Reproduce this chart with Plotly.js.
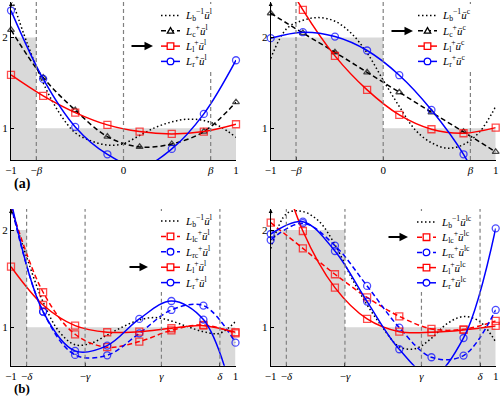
<!DOCTYPE html>
<html><head><meta charset="utf-8">
<script src="https://cdn.plot.ly/plotly-3.0.1.min.js"></script>
<style>html,body{margin:0;padding:0;background:#fff}</style>
</head><body><div id="chart" style="width:502px;height:400px"></div>
<script>
// ---------- data ----------
const beta = 0.775, gamma = 0.340, delta = 0.861;
const xNodes = [-1, -0.714, -0.429, -0.143, 0.143, 0.429, 0.714, 1];
const xFine = [-1, -0.857, -0.714, -0.571, -0.429, -0.286, -0.143, 0, 0.143, 0.286, 0.429, 0.571, 0.714, 0.857, 1];
const stepY = [2, 1, 1];
const stepXa1 = [-1, -beta, 1];
const stepXa2 = [-1, 0, 1];
const stepXb1 = [-1, -delta, 1];
const stepXb2 = [-1, -gamma, 1];

// (a) left: u^l
const tlDotted = [2.45, 1.94, 1.50, 1.17, 0.95, 0.86, 0.815, 0.83, 0.92, 1.01, 1.07, 1.10, 1.085, 1.02, 0.90];
const tlLc = [2.085, 1.56, 1.20, 0.908, 0.794, 0.827, 0.963, 1.287];
const tlL1 = [1.588, 1.357, 1.173, 1.037, 0.963, 0.938, 0.963, 1.044];
const tlLr = [2.298, 1.544, 1.015, 0.713, 0.57, 0.772, 1.158, 1.75];
// (a) right: u^c
const trDotted = [1.77, 2.10, 2.19, 2.22, 2.18, 2.05, 1.83, 1.53, 1.24, 0.98, 0.84, 0.78, 0.82, 0.96, 1.24];
const trLc = [2.268, 2.05, 1.838, 1.617, 1.397, 1.176, 0.96, 0.739];
const trL1 = [2.95, 2.305, 1.798, 1.423, 1.147, 0.989, 0.945, 1.007];
const trLr = [1.993, 2.059, 2.011, 1.857, 1.585, 1.202, 0.713, 0.0];
// (b) left: u^l
const blDotted = [2.22, 1.71, 1.26, 0.955, 0.82, 0.836, 0.92, 1.007, 1.075, 1.10, 1.065, 1.007, 0.955, 0.938, 1.058];
const blLlc = [2.24, 1.36, 0.928, 0.795, 0.853, 0.969, 1.024, 0.938];
const blLrc = [2.26, 1.16, 0.716, 0.712, 0.938, 1.178, 1.223, 0.842];
const blL1 = [1.623, 1.229, 1.017, 0.949, 0.955, 0.99, 1.017, 0.949];
const blLr = [2.3, 1.161, 0.757, 0.812, 1.086, 1.27, 1.079, 0.2];
// (b) right: u^lc
const brDotted = [1.81, 2.17, 2.19, 2.09, 1.85, 1.52, 1.23, 0.99, 0.80, 0.78, 0.887, 1.04, 1.11, 1.06, 0.85];
const brLlc = [2.075, 1.812, 1.545, 1.308, 1.113, 0.983, 0.979, 1.065];
const brLrc = [1.897, 2.07, 1.839, 1.425, 0.997, 0.692, 0.709, 1.178];
const brL1 = [3.0, 1.99, 1.408, 1.086, 0.955, 0.949, 0.973, 1.014];
const brLr = [1.959, 2.086, 1.784, 1.264, 0.774, 0.5, 0.89, 2.017];

const ticksA = [-1, -beta, 0, beta, 1];
const tickTextA = ['−1', '−<i>β</i>', '0', '<i>β</i>', '1'];
const ticksB = [-1, -delta, -gamma, gamma, delta, 1];
const tickTextB = ['−1', '−<i>δ</i>', '−<i>γ</i>', '<i>γ</i>', '<i>δ</i>', '1'];

// ---------- styling ----------
const W = 502, H = 400;
const P = px => px / W, Q = py => 1 - py / H;
const FONT = 'Liberation Serif, Times New Roman, serif';
const RED = 'rgb(255,0,0)', BLUE = 'rgb(0,0,255)', BLACK = '#000';
const DASH = '5px,3px', DOT = '1.5px,2.5px';
const lbl = (sub, sup, u) => `<i>L</i><sub>${sub}</sub><sup>${sup}</sup><i>ū</i><sup>${u}</sup>`;

const panels = [
  {xa: 'x', ya: 'y', xd: [11, 236], yd: [2, 160], yr: [0.65, 2.392], tv: ticksA, tt: tickTextA, step: stepXa1,
   vlines: [-beta, 0, beta],
   series: [
     {x: xFine, y: tlDotted, color: BLACK, dash: DOT},
     {x: xNodes, y: tlLc, color: BLACK, dash: DASH, symbol: 'triangle-up-open', size: 6},
     {x: xNodes, y: tlL1, color: RED, dash: 'solid', symbol: 'square-open', size: 7},
     {x: xNodes, y: tlLr, color: BLUE, dash: 'solid', symbol: 'circle-open', size: 7}]},
  {xa: 'x2', ya: 'y2', xd: [270.7, 495.7], yd: [2, 160], yr: [0.65, 2.392], tv: ticksA, tt: tickTextA, step: stepXa2,
   vlines: [-beta, 0, beta],
   series: [
     {x: xFine, y: trDotted, color: BLACK, dash: DOT},
     {x: xNodes, y: trLc, color: BLACK, dash: DASH, symbol: 'triangle-up-open', size: 6},
     {x: xNodes, y: trL1, color: RED, dash: 'solid', symbol: 'square-open', size: 7},
     {x: xNodes, y: trLr, color: BLUE, dash: 'solid', symbol: 'circle-open', size: 7}]},
  {xa: 'x3', ya: 'y3', xd: [11, 235.5], yd: [209, 365.7], yr: [0.605, 2.216], tv: ticksB, tt: tickTextB, step: stepXb1,
   vlines: [-delta, -gamma, gamma, delta],
   series: [
     {x: xFine, y: blDotted, color: BLACK, dash: DOT},
     {x: xNodes, y: blLlc, color: RED, dash: DASH, symbol: 'square-open', size: 7},
     {x: xNodes, y: blLrc, color: BLUE, dash: DASH, symbol: 'circle-open', size: 7},
     {x: xNodes, y: blL1, color: RED, dash: 'solid', symbol: 'square-open', size: 7},
     {x: xNodes, y: blLr, color: BLUE, dash: 'solid', symbol: 'circle-open', size: 7}]},
  {xa: 'x4', ya: 'y4', xd: [270.7, 495.7], yd: [209, 365.7], yr: [0.605, 2.216], tv: ticksB, tt: tickTextB, step: stepXb2,
   vlines: [-delta, -gamma, gamma, delta],
   series: [
     {x: xFine, y: brDotted, color: BLACK, dash: DOT},
     {x: xNodes, y: brLlc, color: RED, dash: DASH, symbol: 'square-open', size: 7},
     {x: xNodes, y: brLrc, color: BLUE, dash: DASH, symbol: 'circle-open', size: 7},
     {x: xNodes, y: brL1, color: RED, dash: 'solid', symbol: 'square-open', size: 7},
     {x: xNodes, y: brLr, color: BLUE, dash: 'solid', symbol: 'circle-open', size: 7}]}
];

const traces = [], shapes = [], annotations = [];
const layout = {
  width: W, height: H, margin: {l: 0, r: 0, t: 0, b: 0},
  paper_bgcolor: '#fff', plot_bgcolor: '#fff', showlegend: false,
  font: {family: FONT, size: 11, color: '#000'}
};

panels.forEach((p, i) => {
  const n = i === 0 ? '' : String(i + 1);
  traces.push({x: p.step, y: stepY, xaxis: p.xa, yaxis: p.ya, mode: 'lines',
    line: {shape: 'hv', width: 0, color: '#d9d9d9'}, fill: 'tozeroy', fillcolor: '#d9d9d9',
    hoverinfo: 'skip', showlegend: false});
  p.series.forEach(s => {
    const t = {x: s.x, y: s.y, xaxis: p.xa, yaxis: p.ya,
      mode: s.symbol ? 'lines+markers' : 'lines',
      line: {color: s.color, width: 1.5, dash: s.dash, shape: 'spline', smoothing: 1},
      cliponaxis: false, showlegend: false, hoverinfo: 'skip'};
    if (s.symbol) {
      t.marker = {symbol: s.symbol, color: s.color, line: {width: 1.3, color: s.color},
        size: s.y.map(v => (v >= p.yr[0] && v <= p.yr[1]) ? s.size : 0)};
    }
    traces.push(t);
  });
  const axCommon = {showline: true, linecolor: '#000', linewidth: 1, ticks: 'inside', ticklen: 3,
    tickcolor: '#000', showgrid: false, zeroline: false, tickfont: {family: FONT, size: 11, color: '#000'},
    fixedrange: true};
  layout['xaxis' + n] = Object.assign({}, axCommon, {domain: [P(p.xd[0]), P(p.xd[1])], range: [-1, 1],
    anchor: p.ya, tickmode: 'array', tickvals: p.tv, ticktext: p.tt});
  layout['yaxis' + n] = Object.assign({}, axCommon, {domain: [Q(p.yd[1]), Q(p.yd[0])], range: p.yr,
    anchor: p.xa, tickmode: 'array', tickvals: [1, 2], ticktext: ['1', '2']});
  p.vlines.forEach(v => shapes.push({type: 'line', xref: p.xa, yref: p.ya + ' domain', x0: v, x1: v, y0: 0, y1: 1,
    line: {color: '#808080', width: 1.2, dash: '4px,3px'}, layer: 'above'}));
  // small arrowhead at top of y-axis
  annotations.push({xref: p.xa, yref: p.ya, x: -1, y: p.yr[1], ax: 0, ay: 7, text: '', showarrow: true,
    arrowhead: 2, arrowsize: 0.8, arrowwidth: 1, arrowcolor: '#000', standoff: 0});
});

// ---------- legends (drawn boxes) ----------
function addLegend(x0, y0, pitch, items, bg) {
  shapes.push({type: 'rect', xref: 'paper', yref: 'paper', x0: P(bg[0]), x1: P(bg[1]), y0: Q(bg[3]), y1: Q(bg[2]),
    fillcolor: '#fff', line: {width: 0}, layer: 'above'});
  items.forEach((it, i) => {
    const y = y0 + pitch * i, cx = x0 + 9.5;
    shapes.push({type: 'line', xref: 'paper', yref: 'paper', x0: P(x0), x1: P(x0 + 19), y0: Q(y), y1: Q(y),
      line: {color: it.color, width: 1.5, dash: it.dash}, layer: 'above'});
    const ml = {color: it.color, width: 1.3};
    if (it.symbol === 'square') shapes.push({type: 'rect', xref: 'paper', yref: 'paper',
      x0: P(cx - 3.3), x1: P(cx + 3.3), y0: Q(y + 3.3), y1: Q(y - 3.3), fillcolor: '#fff', line: ml, layer: 'above'});
    if (it.symbol === 'circle') shapes.push({type: 'circle', xref: 'paper', yref: 'paper',
      x0: P(cx - 3.3), x1: P(cx + 3.3), y0: Q(y + 3.3), y1: Q(y - 3.3), fillcolor: '#fff', line: ml, layer: 'above'});
    if (it.symbol === 'triangle') shapes.push({type: 'path', xref: 'paper', yref: 'paper',
      path: `M${P(cx)},${Q(y - 3.2)} L${P(cx - 3.2)},${Q(y + 2.4)} L${P(cx + 3.2)},${Q(y + 2.4)} Z`,
      fillcolor: '#fff', line: ml, layer: 'above'});
    annotations.push({xref: 'paper', yref: 'paper', x: P(x0 + 22), y: Q(y), xanchor: 'left', yanchor: 'middle',
      text: it.label, showarrow: false, font: {family: FONT, size: 11, color: '#000'}});
  });
}
const itemsA = u => [
  {label: lbl('b', '−1', u), color: BLACK, dash: DOT},
  {label: lbl('c', '+', u), color: BLACK, dash: DASH, symbol: 'triangle'},
  {label: lbl('l', '+', u), color: RED, dash: 'solid', symbol: 'square'},
  {label: lbl('r', '+', u), color: BLUE, dash: 'solid', symbol: 'circle'}];
const itemsB = u => [
  {label: lbl('b', '−1', u), color: BLACK, dash: DOT},
  {label: lbl('lc', '+', u), color: RED, dash: DASH, symbol: 'square'},
  {label: lbl('rc', '+', u), color: BLUE, dash: DASH, symbol: 'circle'},
  {label: lbl('l', '+', u), color: RED, dash: 'solid', symbol: 'square'},
  {label: lbl('r', '+', u), color: BLUE, dash: 'solid', symbol: 'circle'}];
addLegend(161, 15.5, 15.3, itemsA('l'), [156, 224, 4, 70]);
addLegend(418, 15.5, 15.3, itemsA('c'), [413, 491, 4, 70]);
addLegend(161, 221, 15.4, itemsB('l'), [156, 214, 211, 292]);
addLegend(417, 222, 15.2, itemsB('lc'), [412, 474, 211, 292]);

// pointer arrows
[[153, 46, 23], [413, 31, 23], [148, 267, 20], [408, 237, 21]].forEach(a => annotations.push({
  xref: 'paper', yref: 'paper', x: P(a[0]), y: Q(a[1]), ax: -a[2], ay: 0, text: '', showarrow: true,
  arrowhead: 2, arrowsize: 0.85, arrowwidth: 2, arrowcolor: '#000', standoff: 0}));

// panel labels
annotations.push({xref: 'paper', yref: 'paper', x: P(12), y: Q(184), xanchor: 'left', yanchor: 'middle',
  text: '<b>(a)</b>', showarrow: false, font: {family: FONT, size: 14, color: '#000'}});
annotations.push({xref: 'paper', yref: 'paper', x: P(12), y: Q(379), xanchor: 'left', yanchor: 'top',
  text: '<b>(b)</b>', showarrow: false, font: {family: FONT, size: 13, color: '#000'}});

layout.shapes = shapes;
layout.annotations = annotations;
Plotly.newPlot('chart', traces, layout, {staticPlot: true, displayModeBar: false});
</script></body></html>
